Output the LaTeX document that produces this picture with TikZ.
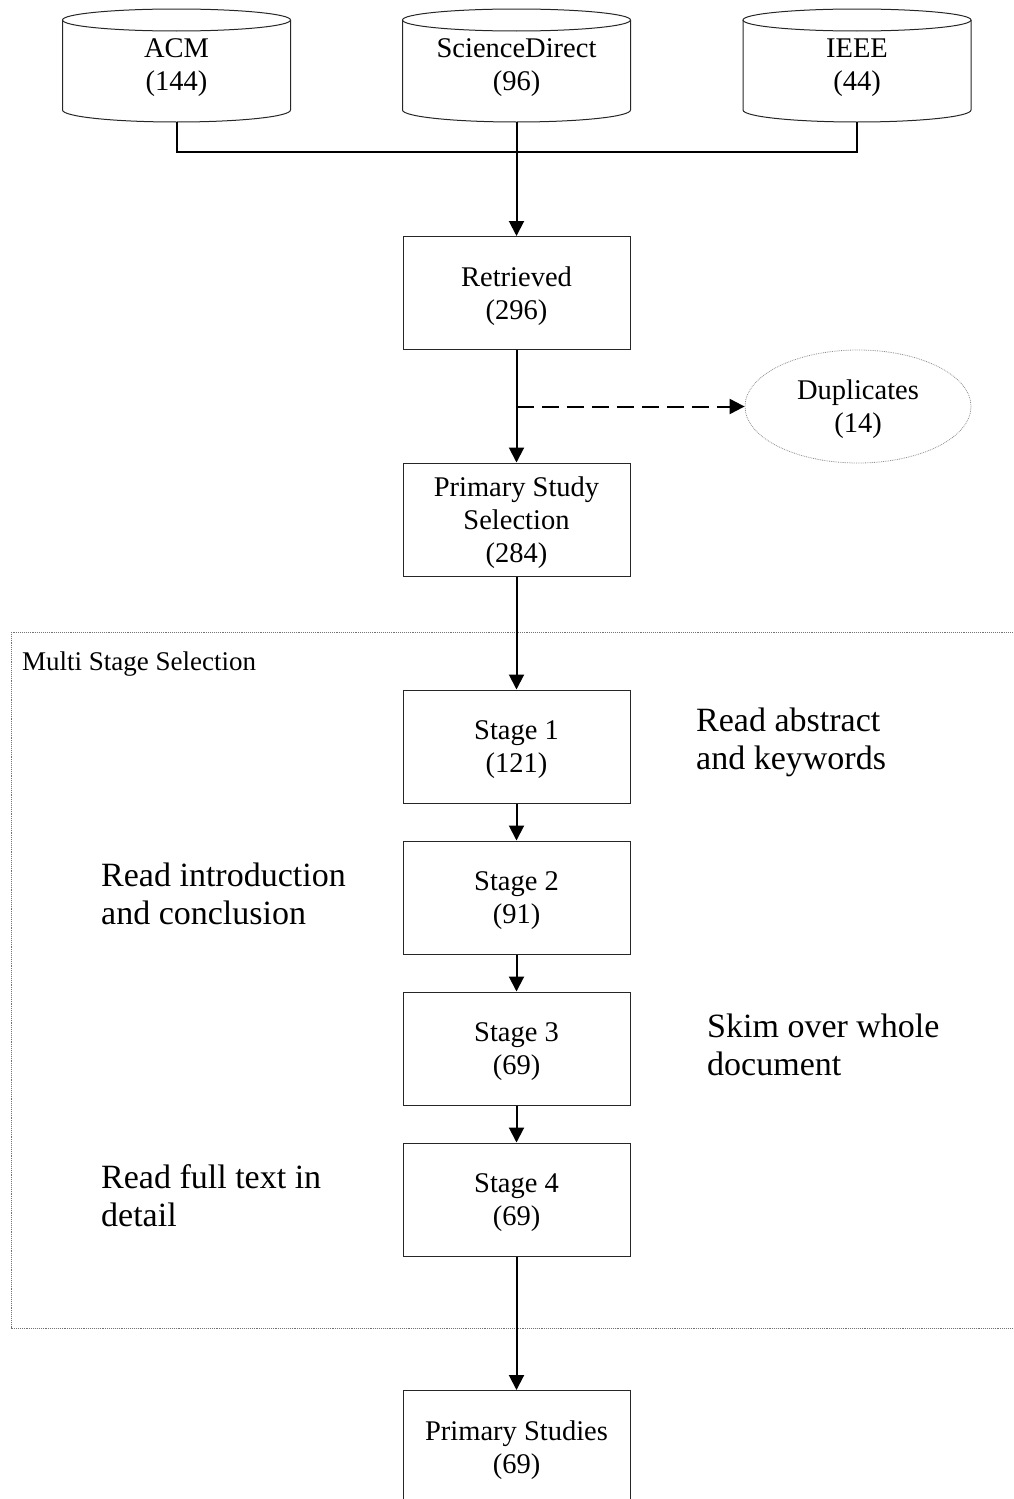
\documentclass[tikz,border=0pt]{standalone}
\usepackage{fontspec}
\setmainfont{Liberation Serif}
\usetikzlibrary{arrows.meta,shapes.geometric}
\newcommand{\shiftlines}[1]{\raisebox{-3pt}[\height][\depth]{\begin{tabular}{@{}c@{}}#1\end{tabular}}}
\begin{document}
\begin{tikzpicture}[x=1pt,y=1pt,
  boxtext/.style={font=\fontsize{28.5}{33}\selectfont, align=center, inner sep=0pt},
  stepbox/.style={boxtext, draw=black!85, line width=1pt, minimum width=227pt, minimum height=113pt},
  cyltext/.style={boxtext, minimum width=228pt, minimum height=116pt},
  cylline/.style={draw=black!85, line width=1pt},
  side/.style={font=\fontsize{34}{38}\selectfont, align=left, anchor=west, inner sep=0pt},
  conn/.style={line width=2pt, draw=black},
  arr/.style={conn, -{Triangle[width=15pt,length=15pt]}},
  dasharr/.style={arr, dash pattern=on 17pt off 8pt},
]
\useasboundingbox (0,0) rectangle (1014,-1499);
% cylinders
\foreach \cx in {176.5,516.5,857}{
  \draw[cylline] (\cx-114,-20) -- (\cx-114,-110) arc[start angle=180,end angle=360,x radius=114,y radius=12] -- (\cx+114,-20);
  \draw[cylline] (\cx,-20) ellipse[x radius=114,y radius=11];
}
\node[cyltext] (acm) at (176.5,-64) {\shiftlines{ACM\\(144)}};
\node[cyltext] (sd) at (516.5,-64) {\shiftlines{ScienceDirect\\(96)}};
\node[cyltext] (ieee) at (857,-64) {\shiftlines{IEEE\\(44)}};
\coordinate (j) at (516.5,-152);
\draw[conn] (acm.south) |- (j) -| (ieee.south);
% boxes
\node[stepbox] (ret) at (516.5,-293) {\shiftlines{Retrieved\\(296)}};
\node[boxtext, draw=black!45, densely dotted, line width=0.8pt, ellipse, minimum width=226pt, minimum height=113pt] (dup) at (858,-406.5) {\shiftlines{Duplicates\\(14)}};
\node[stepbox] (pss) at (516.5,-519.5) {\shiftlines{Primary Study\\Selection\\(284)}};
% frame
\draw[black!55, densely dotted, line width=0.9pt] (11,-632) rectangle (1030,-1328);
\node[font=\fontsize{27}{30}\selectfont, anchor=west, inner sep=0pt] (mss) at (22,-664) {Multi Stage Selection};
\node[stepbox] (s1) at (516.5,-746.5) {\shiftlines{Stage 1\\(121)}};
\node[stepbox] (s2) at (516.5,-897.5) {\shiftlines{Stage 2\\(91)}};
\node[stepbox] (s3) at (516.5,-1048.5) {\shiftlines{Stage 3\\(69)}};
\node[stepbox] (s4) at (516.5,-1199.5) {\shiftlines{Stage 4\\(69)}};
\node[stepbox] (ps) at (516.5,-1447) {\shiftlines{Primary Studies\\(69)}};
% side labels
\node[side] (l1) at (696,-742) {Read abstract\\and keywords};
\node[side] (l2) at (101,-894) {Read introduction\\and conclusion};
\node[side] (l3) at (707,-1045) {Skim over whole\\document};
\node[side] (l4) at (101,-1196) {Read full text in\\detail};
% connectors
\draw[arr] (sd.south) -- (ret.north);
\draw[arr] (ret.south) -- (pss.north);
\coordinate (d) at (516.5,-406.5);
\draw[dasharr] (d) -- (dup.west);
\draw[arr] (pss.south) -- (s1.north);
\draw[arr] (s1.south) -- (s2.north);
\draw[arr] (s2.south) -- (s3.north);
\draw[arr] (s3.south) -- (s4.north);
\draw[arr] (s4.south) -- (ps.north);
\end{tikzpicture}
\end{document}
